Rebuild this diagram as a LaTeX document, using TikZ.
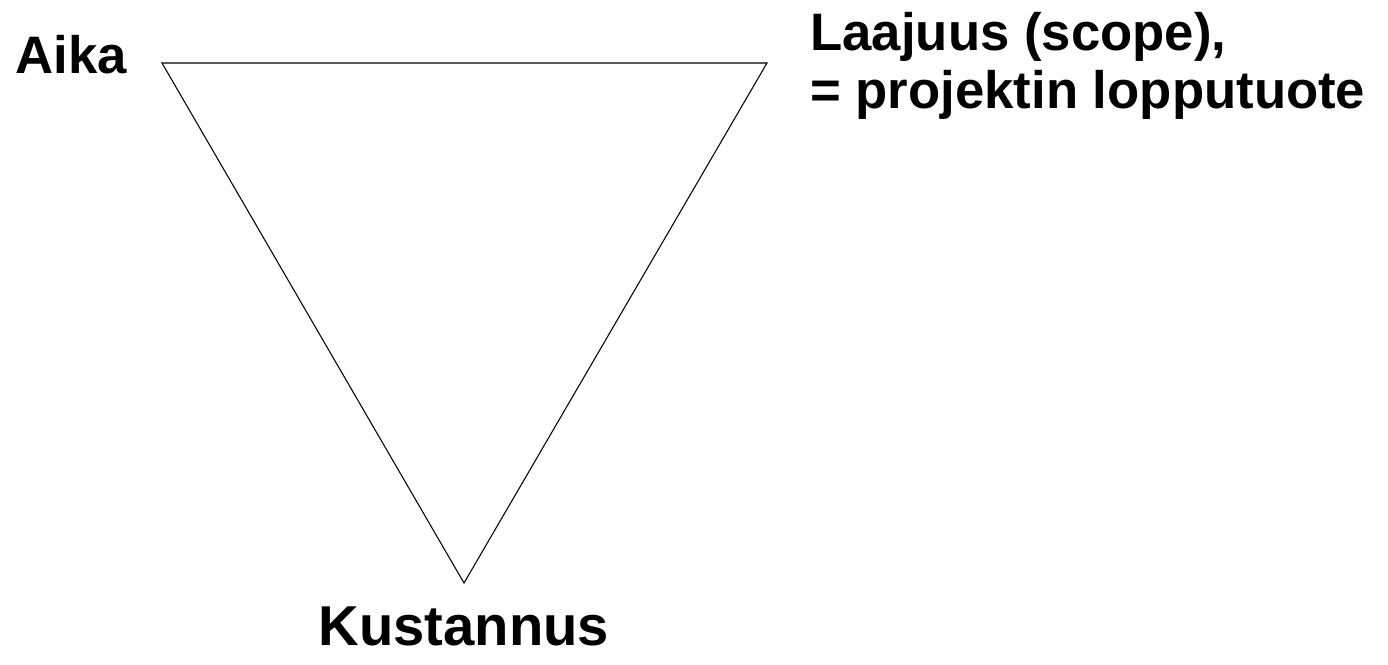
\documentclass[tikz,border=0pt]{standalone}
\usepackage{fontspec}
\setmainfont{Liberation Sans}
\usetikzlibrary{positioning}

\begin{document}
\begin{tikzpicture}[
    x=0.02cm, y=-0.02cm,
    corner/.style={font=\fontsize{30}{33}\selectfont\bfseries, inner sep=0pt},
    side/.style={draw=black, line width=0.6pt, line join=miter}
]
\useasboundingbox (0,0) rectangle (1388,664);
\coordinate (aika) at (162,63);
\coordinate (laajuus) at (767,63);
\coordinate (kust) at (464,583);
\draw[side] (aika) -- (laajuus) -- (kust) -- cycle;
\node[corner, anchor=base west] (laika) at (15,73) {Aika};
\node[corner, anchor=base west] (llaaj) at (810,50) {Laajuus (scope),};
\node[corner, anchor=base west] (lloppu) at (810,108) {= projektin lopputuote};
\node[corner, font=\fontsize{32}{35}\selectfont\bfseries, anchor=base] (lkust) at (464,645) {Kustannus};
\end{tikzpicture}
\end{document}
